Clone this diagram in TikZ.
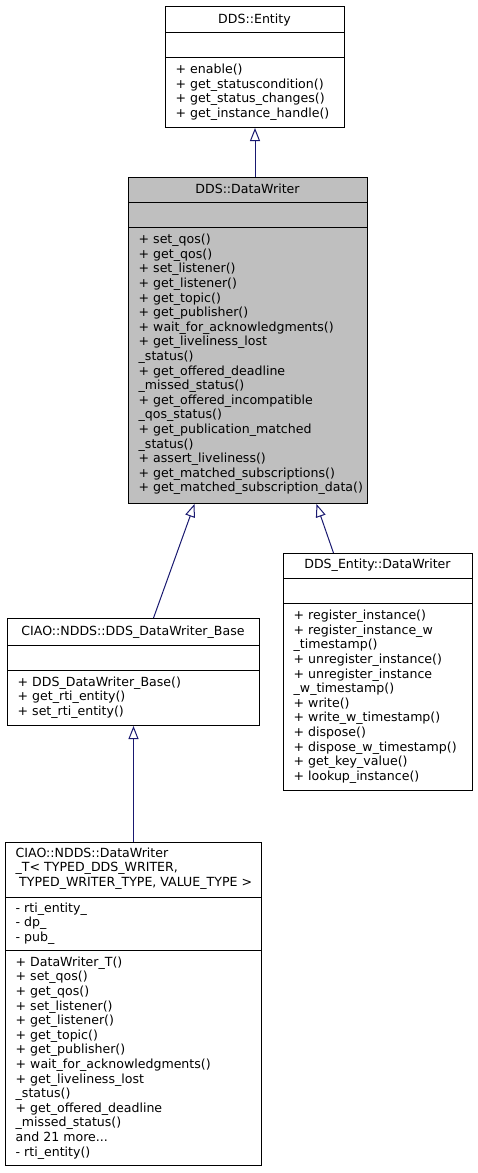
\documentclass[tikz,border=0pt]{standalone}
\usepackage{fontspec}
\setmainfont{DejaVu Sans}
\usetikzlibrary{arrows.meta}
\definecolor{edgeblue}{HTML}{191970}
\definecolor{dwgray}{HTML}{BFBFBF}
\newcommand\firstln{\rule{0pt}{10pt}}
\begin{document}
\begin{tikzpicture}[x=1pt,y=-1pt,
  classbox/.style={draw=black, line width=1pt, inner sep=0pt, anchor=north west},
  sepline/.style={draw=black, line width=1pt},
  txt/.style={inner sep=0pt, anchor=north west, align=left, font=\fontsize{12.57}{14.6}\selectfont},
  ttl/.style={inner sep=0pt, anchor=base, font=\fontsize{12.57}{14.6}\selectfont},
  inh/.style={draw=edgeblue, line width=1pt, -{Triangle[open, length=13pt, width=10pt]}}]
\useasboundingbox (0,0) rectangle (477,1173);

% DDS::Entity
\node[classbox, minimum width=179pt, minimum height=121pt] (entity) at (165,6) {};
\draw[sepline] (165,32) -- (344,32);
\draw[sepline] (165,57) -- (344,57);
\node[ttl] (entityT) at (254.5,23.5) {DDS::Entity};
\node[txt] (entityM) at (175.5,63.5) {\firstln+ enable()\\+ get\_statuscondition()\\+ get\_status\_changes()\\+ get\_instance\_handle()};

% DDS::DataWriter
\node[classbox, fill=dwgray, minimum width=239pt, minimum height=326pt] (dw) at (128,177) {};
\draw[sepline] (128,202) -- (367,202);
\draw[sepline] (128,227) -- (367,227);
\node[ttl] (dwT) at (247.5,193.5) {DDS::DataWriter};
\node[txt] (dwM) at (138.5,233.5) {\firstln+ set\_qos()\\+ get\_qos()\\+ set\_listener()\\+ get\_listener()\\+ get\_topic()\\+ get\_publisher()\\+ wait\_for\_acknowledgments()\\+ get\_liveliness\_lost\\\_status()\\+ get\_offered\_deadline\\\_missed\_status()\\+ get\_offered\_incompatible\\\_qos\_status()\\+ get\_publication\_matched\\\_status()\\+ assert\_liveliness()\\+ get\_matched\_subscriptions()\\+ get\_matched\_subscription\_data()};

% CIAO::NDDS::DDS_DataWriter_Base
\node[classbox, minimum width=252pt, minimum height=107pt] (base) at (7,618) {};
\draw[sepline] (7,645) -- (259,645);
\draw[sepline] (7,670) -- (259,670);
\node[ttl] (baseT) at (133,635.5) {CIAO::NDDS::DDS\_DataWriter\_Base};
\node[txt] (baseM) at (17.5,676) {\firstln+ DDS\_DataWriter\_Base()\\+ get\_rti\_entity()\\+ set\_rti\_entity()};

% DDS_Entity::DataWriter
\node[classbox, minimum width=189pt, minimum height=237pt] (ede) at (283,553) {};
\draw[sepline] (283,578) -- (472,578);
\draw[sepline] (283,603) -- (472,603);
\node[ttl] (edeT) at (377.5,568.5) {DDS\_Entity::DataWriter};
\node[txt] (edeM) at (293.5,609.5) {\firstln+ register\_instance()\\+ register\_instance\_w\\\_timestamp()\\+ unregister\_instance()\\+ unregister\_instance\\\_w\_timestamp()\\+ write()\\+ write\_w\_timestamp()\\+ dispose()\\+ dispose\_w\_timestamp()\\+ get\_key\_value()\\+ lookup\_instance()};

% CIAO::NDDS::DataWriter_T
\node[classbox, minimum width=256pt, minimum height=323pt] (dwt) at (5,842) {};
\draw[sepline] (5,897) -- (261,897);
\draw[sepline] (5,950) -- (261,950);
\node[txt] (dwtT) at (15.5,847) {\firstln CIAO::NDDS::DataWriter\\\_T< TYPED\_DDS\_WRITER,\\\hspace*{3.5pt}TYPED\_WRITER\_TYPE, VALUE\_TYPE >};
\node[txt] (dwtA) at (15.5,902) {\firstln- rti\_entity\_\\- dp\_\\- pub\_};
\node[txt] (dwtM) at (15.5,956) {\firstln+ DataWriter\_T()\\+ set\_qos()\\+ get\_qos()\\+ set\_listener()\\+ get\_listener()\\+ get\_topic()\\+ get\_publisher()\\+ wait\_for\_acknowledgments()\\+ get\_liveliness\_lost\\\_status()\\+ get\_offered\_deadline\\\_missed\_status()\\and 21 more...\\- rti\_entity()};

% inheritance connectors
\draw[inh] (dw.north -| entity.south) -- (entity.south);
\draw[inh] ([xshift=20pt]base.north) -- ([xshift=-53.5pt]dw.south);
\draw[inh] ([xshift=-44.5pt]ede.north) -- ([xshift=68.5pt]dw.south);
\draw[inh] (dwt.north) -- (base.south);
\end{tikzpicture}
\end{document}
